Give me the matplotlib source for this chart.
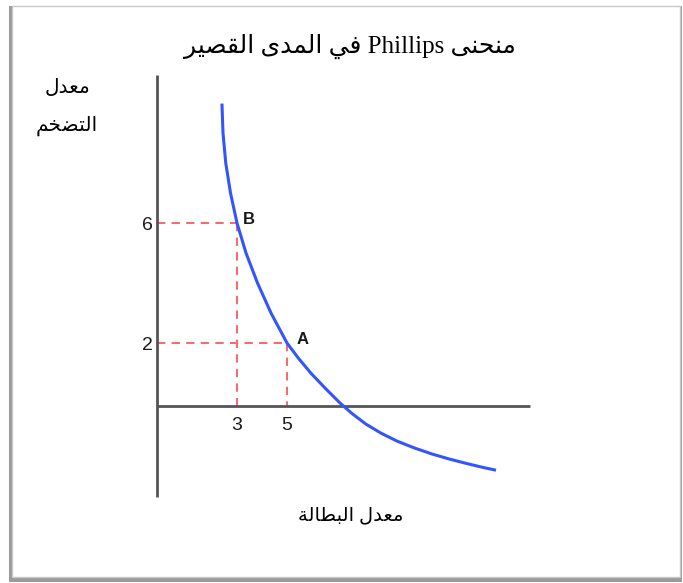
import matplotlib
matplotlib.use("Agg")
import matplotlib.pyplot as plt
from matplotlib.patches import Rectangle

# Arabic text written in presentation forms, visual order (matplotlib does no shaping)
title_txt = ("\uFEAE\uFEF4\uFEBC\uFED8\uFEDF\uFE8D \uFEEF\uFEAA\uFEE4\uFEDF\uFE8D "
             "\uFEF2\uFED3 Phillips \uFEF0\uFEE8\uFEA4\uFEE8\uFEE3")
ylab1 = "\uFEDD\uFEAA\uFECC\uFEE3"                      # معدل
ylab2 = "\uFEE2\uFEA8\uFEC0\uFE98\uFEDF\uFE8D"          # التضخم
xlab = "\uFE94\uFEDF\uFE8E\uFEC4\uFE92\uFEDF\uFE8D \uFEDD\uFEAA\uFECC\uFEE3"  # معدل البطالة

# curve (unemployment, inflation)
curve_x = [2.40, 2.44, 2.55, 2.74, 3.00, 3.36, 3.82, 4.36, 5.00, 5.45, 5.95, 6.52, 7.12,
           7.6, 8.15, 8.75, 9.4, 10.1, 10.8, 11.5, 12.2, 12.8, 13.3]
curve_y = [9.93, 9.0, 8.0, 7.0, 6.0, 5.0, 4.0, 3.0, 2.0, 1.5, 1.0, 0.5, 0.0,
           -0.35, -0.7, -1.0, -1.27, -1.5, -1.7, -1.87, -2.02, -2.14, -2.23]

points = ["B", "A"]
pt_x = [3, 5]
pt_y = [6, 2]

y_ticks = [6, 2]
x_ticks = [3, 5]

W, H = 683, 583
fig = plt.figure(figsize=(W / 100, H / 100), dpi=100)
ax = fig.add_axes([0, 0, 1, 1])
# 25 px per x unit, 30 px per y unit, origin near pixel (162, 403)
ax.set_xlim(-162 / 25, (W - 162) / 25)
ax.set_ylim(-(H - 403) / 30, 403 / 30)
ax.axis("off")

# frame with shadow
fig.patches.append(Rectangle((9 / W, 1 - 582 / H), 673 / W, 576 / H, transform=fig.transFigure,
                             facecolor="#9a9a9a", edgecolor="none", zorder=-3))
fig.patches.append(Rectangle((12 / W, 1 - 577 / H), 668 / W, 571 / H, transform=fig.transFigure,
                             facecolor="white", edgecolor="#c8c8c8", lw=1, zorder=-2))

x0, y0 = -0.2, -0.1
ax.plot([x0, x0], [-3.13, 10.93], color="#555555", lw=2, solid_capstyle="butt", zorder=3)
ax.plot([x0, 14.72], [y0, y0], color="#555555", lw=2, solid_capstyle="butt", zorder=3)

for px, py in zip(pt_x, pt_y):
    ax.plot([x0, px], [py, py], color="#f07070", lw=1.5, ls=(0, (4, 3)), zorder=2)
    ax.plot([px, px], [py, y0], color="#f07070", lw=1.5, ls=(0, (4, 3)), zorder=2)

ax.plot(curve_x, curve_y, color="#3355ff", lw=2.2, zorder=4, solid_joinstyle="round")

for name, px, py, dx in zip(points, pt_x, pt_y, [0.22, 0.4]):
    ax.text(px + dx, py + 0.1, name, fontsize=12, fontweight="bold", family="Liberation Sans",
            color="#1a1a1a", ha="left", va="center", zorder=5)

for t in y_ticks:
    ax.text(x0 - 0.15, t - 0.08, str(t), fontsize=14, family="Liberation Sans", color="#1a1a1a",
            ha="right", va="center")
for t in x_ticks:
    ax.text(t, y0 - 0.35, str(t), fontsize=14, family="Liberation Sans", color="#1a1a1a",
            ha="center", va="top")

fam = ["Liberation Serif", "DejaVu Sans"]
fig.text(350 / W, 1 - 46 / H, title_txt, fontsize=18, family=fam, ha="center", va="center")
fig.text(67 / W, 1 - 88 / H, ylab1, fontsize=14.5, family=fam, ha="center", va="center")
fig.text(67 / W, 1 - 126 / H, ylab2, fontsize=14.5, family=fam, ha="center", va="center")
fig.text(351 / W, 1 - 516 / H, xlab, fontsize=14, family=fam, ha="center", va="center")

fig.savefig("out.png", dpi=100)
